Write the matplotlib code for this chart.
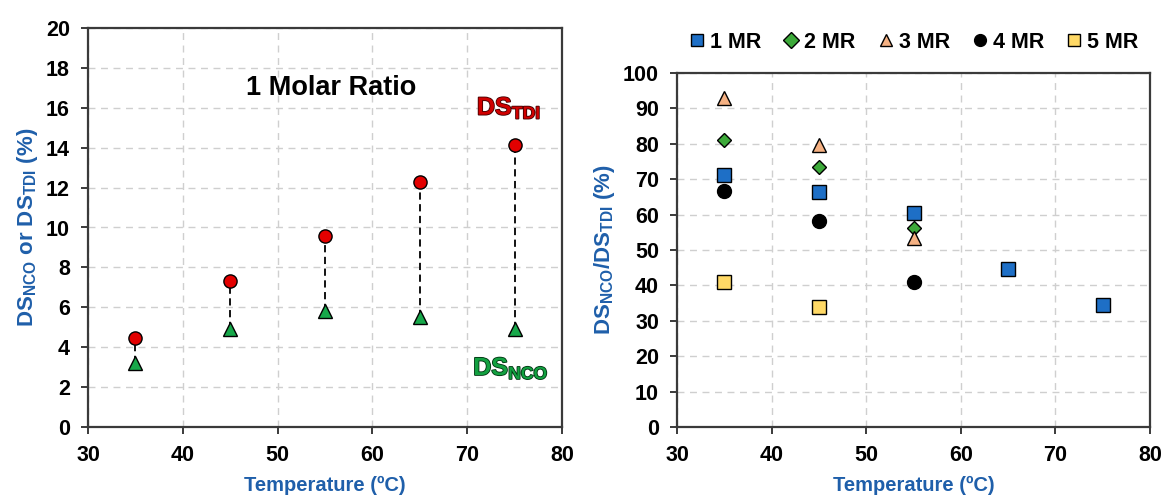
import matplotlib
matplotlib.use("Agg")
import matplotlib.pyplot as plt
import matplotlib.patheffects as pe

plt.rcParams['font.family'] = ['Liberation Sans', 'DejaVu Sans']
plt.rcParams['font.weight'] = 'bold'
plt.rcParams['mathtext.fontset'] = 'custom'
plt.rcParams['mathtext.rm'] = 'Liberation Sans:bold'
plt.rcParams['mathtext.bf'] = 'Liberation Sans:bold'
plt.rcParams['mathtext.it'] = 'Liberation Sans:bold'

# Left panel data
temps = [35, 45, 55, 65, 75]
ds_tdi = [4.45, 7.3, 9.55, 12.3, 14.15]
ds_nco = [3.2, 4.9, 5.8, 5.5, 4.9]

# Right panel data
t1 = [35, 45, 55, 65, 75]
mr1 = [71.3, 66.3, 60.5, 44.6, 34.4]
t2 = [35, 45, 55]
mr2 = [81.0, 73.4, 56.3]
t3 = [35, 45, 55]
mr3 = [92.8, 79.8, 53.3]
t4 = [35, 45, 55]
mr4 = [66.8, 58.3, 41.1]
t5 = [35, 45]
mr5 = [41.1, 34.0]
labels = ['1 MR', '2 MR', '3 MR', '4 MR', '5 MR']

W, H = 1163, 498
fig = plt.figure(figsize=(W/100, H/100), dpi=100)
axL = fig.add_axes([88/W, 1-427/H, (562-88)/W, (427-28)/H])
axR = fig.add_axes([677/W, 1-427/H, (1150-677)/W, (427-73)/H])

blue_lab = '#1F5FAA'
grid_kw = dict(color='#cfcfcf', linestyle=(0, (5, 4)), linewidth=1.0)

for ax in (axL, axR):
    ax.set_xlim(30, 80)
    ax.set_xticks(range(30, 81, 10))
    ax.grid(True, **grid_kw)
    ax.set_axisbelow(True)
    for s in ax.spines.values():
        s.set_color('#3a3a3a')
        s.set_linewidth(1.6)
    ax.tick_params(axis='both', direction='out', length=5, width=1.4,
                   color='#3a3a3a', labelsize=15.5)
    ax.tick_params(axis='x', pad=8)
    ax.tick_params(axis='y', pad=8)
    ax.set_xlabel('Temperature (ºC)', color=blue_lab, fontsize=14.5,
                  fontweight='bold', labelpad=7)

# Left panel
axL.set_ylim(0, 20)
axL.set_yticks(range(0, 21, 2))
axL.vlines(temps, ds_nco, ds_tdi, colors='black', linestyles=(0, (4, 2.5)),
           linewidth=1.3, zorder=2)
axL.plot(temps, ds_tdi, 'o', ms=9.5, mfc='#E30000', mec='black', mew=1.0,
         zorder=3, linestyle='none')
axL.plot(temps, ds_nco, '^', ms=10, mfc='#17A84A', mec='black', mew=1.0,
         zorder=3, linestyle='none')
axL.set_ylabel(r'DS$_{\mathrm{NCO}}$ or DS$_{\mathrm{TDI}}$ (%)', color=blue_lab,
               fontsize=16, fontweight='bold', labelpad=4)
axL.text(55.6, 17.0, '1 Molar Ratio', fontsize=19.5, fontweight='bold',
         ha='center', va='center', color='black')
axL.text(74.4, 16.0, r'DS$_{\mathrm{TDI}}$', fontsize=18, fontweight='bold',
         ha='center', va='center', color='#D00000',
         path_effects=[pe.withStroke(linewidth=1.2, foreground='#400000')])
axL.text(74.6, 2.95, r'DS$_{\mathrm{NCO}}$', fontsize=18, fontweight='bold',
         ha='center', va='center', color='#12A040',
         path_effects=[pe.withStroke(linewidth=1.2, foreground='#003010')])

# Right panel
axR.set_ylim(0, 100)
axR.set_yticks(range(0, 101, 10))
h1, = axR.plot(t1, mr1, 's', ms=9.5, mfc='#1E6FC6', mec='black', mew=1.0, linestyle='none')
h2, = axR.plot(t2, mr2, 'D', ms=7.5, mfc='#3DAA3A', mec='black', mew=1.0, linestyle='none')
h3, = axR.plot(t3, mr3, '^', ms=9.5, mfc='#F5B183', mec='black', mew=1.0, linestyle='none')
h4, = axR.plot(t4, mr4, 'o', ms=10, mfc='black', mec='black', mew=1.0, linestyle='none')
h5, = axR.plot(t5, mr5, 's', ms=9.5, mfc='#FFD966', mec='black', mew=1.0, linestyle='none')
axR.set_ylabel(r'DS$_{\mathrm{NCO}}$/DS$_{\mathrm{TDI}}$ (%)', color=blue_lab,
               fontsize=16, fontweight='bold', labelpad=4)
leg = axR.legend([h1, h2, h3, h4, h5], labels, ncol=5, loc='lower center',
                 bbox_to_anchor=(0.5, 1.02), frameon=False,
                 handlelength=0.8, handletextpad=0.2, columnspacing=1.0,
                 borderaxespad=0.2, prop={'weight': 'bold', 'size': 15.5})
for h in leg.legend_handles:
    h.set_markersize(8.5)

fig.savefig('out.png', dpi=100)
